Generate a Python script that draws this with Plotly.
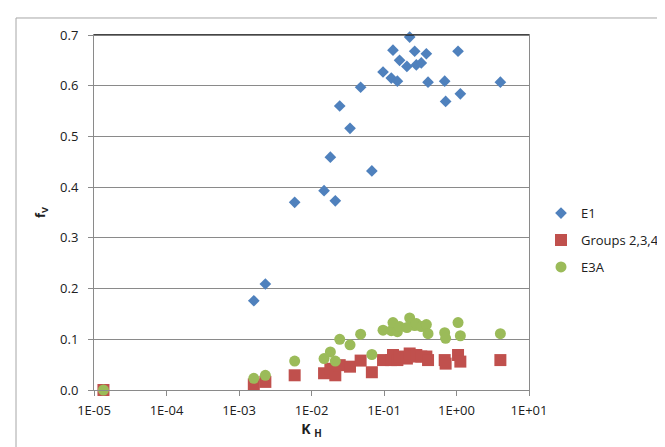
import plotly.graph_objects as go

# ---- data ----
kh = [1.35e-5, 0.0016, 0.00231, 0.00586, 0.0149, 0.0182, 0.0213, 0.0245, 0.034, 0.0476,
      0.068, 0.097, 0.126, 0.133, 0.153, 0.164, 0.207, 0.226, 0.265, 0.279,
      0.327, 0.384, 0.405, 0.687, 0.708, 1.05, 1.13, 4.03]
e1 = [0.0, 0.176, 0.209, 0.370, 0.393, 0.459, 0.373, 0.560, 0.516, 0.597,
      0.432, 0.627, 0.615, 0.670, 0.609, 0.650, 0.638, 0.696, 0.668, 0.641,
      0.645, 0.663, 0.607, 0.609, 0.569, 0.668, 0.584, 0.607]
groups234 = [0.0, 0.011, 0.016, 0.029, 0.033, 0.042, 0.029, 0.049, 0.046, 0.058,
             0.035, 0.059, 0.059, 0.069, 0.059, 0.066, 0.062, 0.072, 0.066, 0.069,
             0.066, 0.066, 0.059, 0.059, 0.052, 0.069, 0.056, 0.059]
e3a = [0.0, 0.023, 0.029, 0.057, 0.062, 0.075, 0.057, 0.100, 0.089, 0.110,
       0.070, 0.118, 0.117, 0.133, 0.115, 0.125, 0.123, 0.142, 0.127, 0.131,
       0.125, 0.129, 0.111, 0.113, 0.102, 0.133, 0.107, 0.111]

x_tickvals = [1e-5, 1e-4, 1e-3, 1e-2, 1e-1, 1e0, 1e1]
x_ticktext = ["1E-05", "1E-04", "1E-03", "1E-02", "1E-01", "1E+00", "1E+01"]
y_tickvals = [0.0, 0.1, 0.2, 0.3, 0.4, 0.5, 0.6, 0.7]

FONT = "Open Sans"
GRID = "#8a8a8a"
TXT = "#202020"

fig = go.Figure()
fig.add_trace(go.Scatter(x=kh, y=e1, mode="markers", name="E1", legendgroup="a",
                         marker=dict(symbol="diamond", size=9, color="#4F81BD"),
                         cliponaxis=False))
fig.add_trace(go.Scatter(x=kh, y=groups234, mode="markers", name="Groups 2,3,4", legendgroup="b",
                         marker=dict(symbol="square", size=12, color="#C0504D"),
                         cliponaxis=False))
fig.add_trace(go.Scatter(x=kh, y=e3a, mode="markers", name="E3A", legendgroup="c",
                         marker=dict(symbol="circle", size=11, color="#9BBB59"),
                         cliponaxis=False))

L, R, T, B = 86, 144, 27, 65.3
W, H = 665, 447
pw, ph = W - L - R, H - T - B

def px2paper_x(px):
    return (px - L) / pw

def py2paper_y(py):
    return (H - B - py) / ph

fig.update_layout(
    width=W, height=H,
    margin=dict(l=L, r=R, t=T, b=B, pad=0, autoexpand=False),
    paper_bgcolor="white", plot_bgcolor="white",
    font=dict(family=FONT, size=13, color=TXT),
    showlegend=True,
    legend=dict(x=px2paper_x(533), y=py2paper_y(232), xanchor="left", yanchor="middle",
                traceorder="grouped", tracegroupgap=7,
                font=dict(family=FONT, size=13, color=TXT),
                itemwidth=30, bgcolor="rgba(0,0,0,0)"),
    xaxis=dict(type="log", range=[-5, 1], tickvals=x_tickvals, ticktext=x_ticktext,
               showgrid=False, showline=True, linecolor=GRID, linewidth=1, mirror=True,
               ticks="outside", ticklen=5, tickcolor=GRID, ticklabelstandoff=3,
               tickfont=dict(family=FONT, size=13, color=TXT),
               title=dict(text="<b>K <sub>H</sub></b>", standoff=6,
                          font=dict(family=FONT, size=14, color=TXT))),
    yaxis=dict(range=[0, 0.7], tickvals=y_tickvals, tickformat=".1f",
               showgrid=True, gridcolor=GRID, gridwidth=1, zeroline=False,
               showline=True, linecolor=GRID, linewidth=1, mirror=True,
               ticks="outside", ticklen=5, tickcolor=GRID, ticklabelstandoff=7,
               tickfont=dict(family=FONT, size=13, color=TXT),
               title=dict(text="<b>f<sub>V</sub></b>", standoff=11,
                          font=dict(family=FONT, size=13, color=TXT))),
    shapes=[
        dict(type="line", xref="paper", yref="paper", x0=0, x1=1, y0=1, y1=1,
             line=dict(color="black", width=1)),
        dict(type="rect", xref="paper", yref="paper",
             x0=px2paper_x(8), x1=px2paper_x(720), y0=py2paper_y(500), y1=py2paper_y(10),
             line=dict(color="#a6a6a6", width=1), layer="below"),
    ],
)

fig.write_html("out.html")
